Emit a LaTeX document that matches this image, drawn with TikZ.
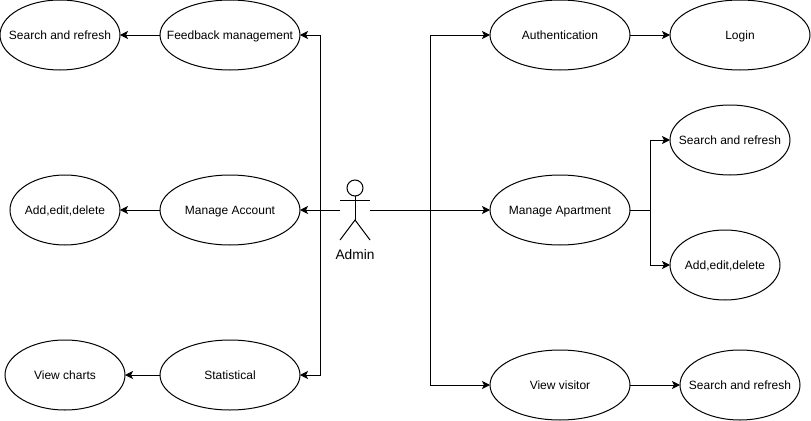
\documentclass[tikz,border=0pt]{standalone}
\usepackage{fontspec}
\setmainfont{Liberation Sans}
\usepackage{tikz}
\usetikzlibrary{shapes,arrows,arrows.meta}
\tikzstyle{usecase} = [ellipse, draw, line width=0.75pt, inner xsep=-30pt, inner ysep=0pt, outer sep=0pt, minimum width=105pt, minimum height=52.5pt, font=\fontsize{9}{11}\selectfont, text height=6.5pt, text depth=0pt]
\tikzstyle{usecasem} = [usecase, minimum width=90pt]
\tikzstyle{usecases} = [usecase, minimum width=82.5pt]
\tikzstyle{actorbox} = [rectangle, inner sep=0pt, outer sep=0pt, minimum width=22.5pt, minimum height=45pt]
\tikzstyle{line} = [draw, line width=0.75pt, -{Stealth[length=6pt, width=6pt, inset=1.5pt]}]

\begin{document}
\begin{tikzpicture}[node distance = 2cm]
        \useasboundingbox (0,0) rectangle (608.25pt,-315.75pt);
        % Place nodes
        \node [actorbox] (admin) at (266.25pt,-157.5pt) {};
        \node [below of=admin, node distance=33.75pt, font=\fontsize{10.3}{12}\selectfont] (adminlabel) {Admin};
        \node [usecase, left of=admin, node distance=93.75pt] (account) {Manage Account};
        \node [usecase, above of=account, node distance=131.25pt] (feedback) {Feedback management};
        \node [usecase, below of=account, node distance=123.75pt] (statistical) {Statistical};
        \node [usecasem, left of=feedback, node distance=127.5pt] (searchfeedback) {Search and refresh};
        \node [usecases, left of=account, node distance=123.75pt] (addaccount) {Add,edit,delete};
        \node [usecasem, left of=statistical, node distance=123.75pt] (charts) {View charts};
        \node [usecase, right of=admin, node distance=153.75pt] (apartment) {Manage Apartment};
        \node [usecase, above of=apartment, node distance=131.25pt] (authentication) {Authentication};
        \node [usecase, below of=apartment, node distance=131.25pt] (visitor) {View visitor};
        \node [usecase, right of=authentication, node distance=135pt] (login) {Login};
        \node [usecasem, right of=apartment, node distance=127.5pt, yshift=52.5pt] (searchapartment) {Search and refresh};
        \node [usecases, right of=apartment, node distance=123.75pt, yshift=-41.25pt] (addapartment) {Add,edit,delete};
        \node [usecasem, right of=visitor, node distance=135pt] (searchvisitor) {Search and refresh};
        % Junctions
        \coordinate [left of=admin, node distance=26.25pt] (trunkleft);
        \coordinate [right of=admin, node distance=56.25pt] (trunkright);
        \coordinate [right of=apartment, node distance=67.5pt] (branch);
        % Draw actor
        \node [circle, draw, line width=0.75pt, inner sep=0pt, outer sep=0pt, minimum size=12pt, above of=admin, node distance=16.5pt] (head) {};
        \coordinate [left of=admin, node distance=11.25pt, yshift=7.5pt] (armleft);
        \coordinate [right of=admin, node distance=11.25pt, yshift=7.5pt] (armright);
        \coordinate [below of=admin, node distance=7.5pt] (hip);
        \draw [line width=0.75pt] (armleft) -- (armright);
        \draw [line width=0.75pt] (head.south) -- (hip);
        \draw [line width=0.75pt] (admin.south west) -- (hip) -- (admin.south east);
        % Draw edges
        \path [line] (admin.west) -- (account.east);
        \path [line] (admin.west) -- (trunkleft) |- (feedback.east);
        \path [line] (admin.west) -- (trunkleft) |- (statistical.east);
        \path [line] (admin.east) -- (apartment.west);
        \path [line] (admin.east) -- (trunkright) |- (authentication.west);
        \path [line] (admin.east) -- (trunkright) |- (visitor.west);
        \path [line] (feedback) -- (searchfeedback);
        \path [line] (account) -- (addaccount);
        \path [line] (statistical) -- (charts);
        \path [line] (authentication) -- (login);
        \path [line] (visitor) -- (searchvisitor);
        \path [line] (apartment.east) -- (branch) |- (searchapartment.west);
        \path [line] (apartment.east) -- (branch) |- (addapartment.west);
    \end{tikzpicture}
\end{document}
